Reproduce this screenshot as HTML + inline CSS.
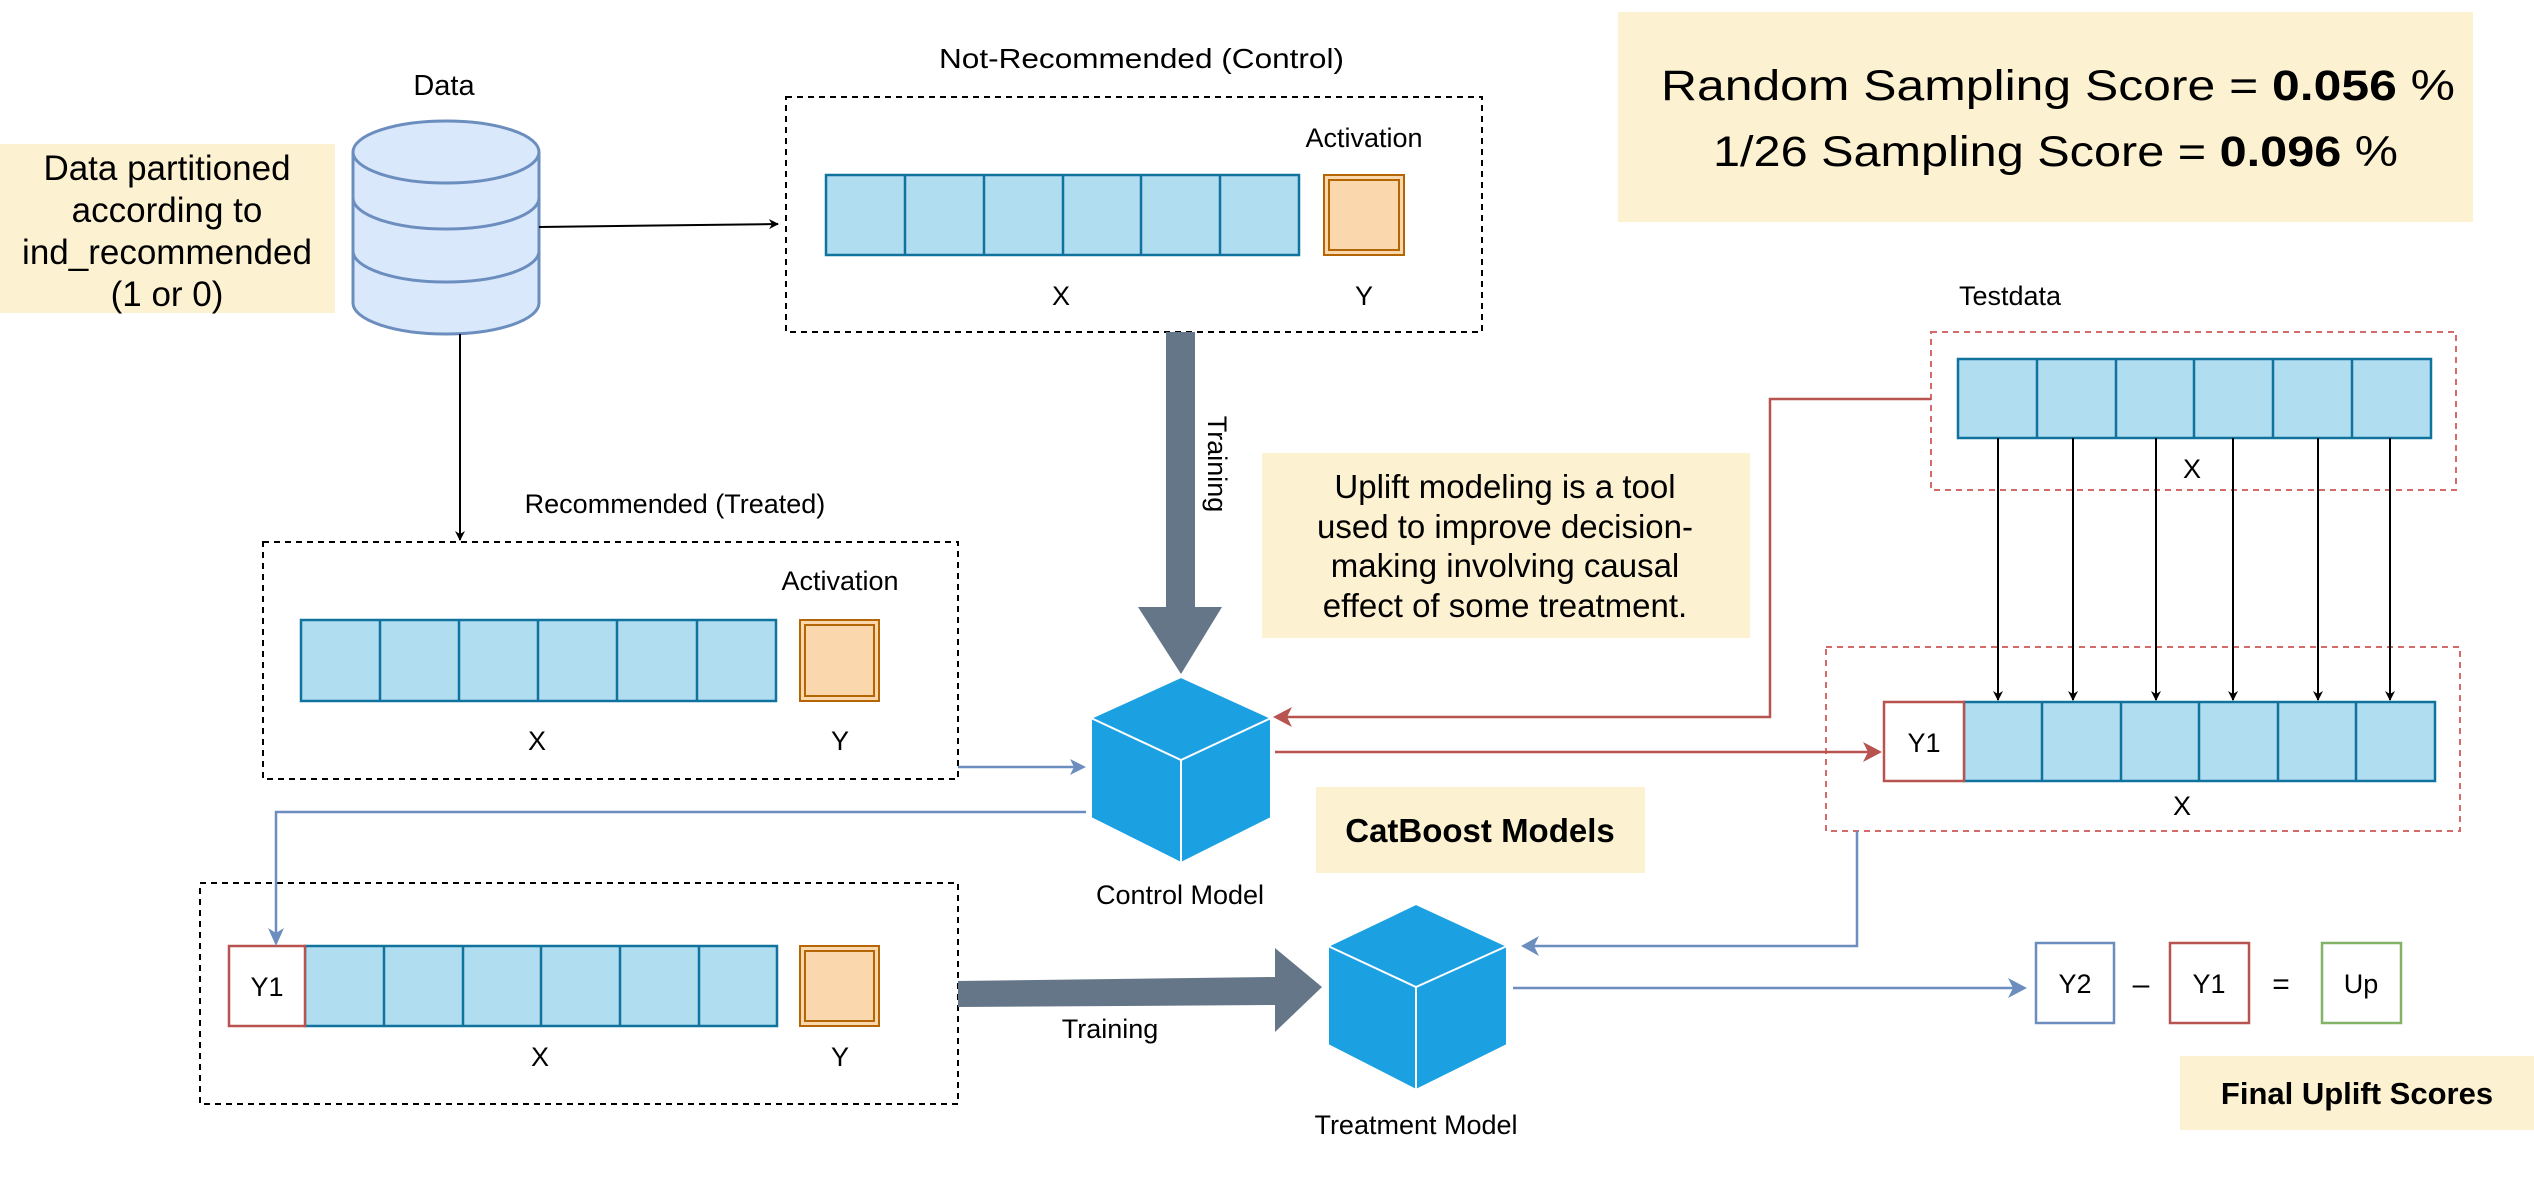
<!DOCTYPE html>
<html><head><meta charset="utf-8"><style>
html,body{margin:0;padding:0;background:#fff;}
svg{display:block;}
text{font-family:"Liberation Sans",Arial,sans-serif;}
</style></head><body>
<svg width="2534" height="1178" viewBox="0 0 2534 1178" xmlns="http://www.w3.org/2000/svg">
<defs>
<marker id="ab" markerWidth="10" markerHeight="10" refX="9" refY="5" orient="auto" markerUnits="userSpaceOnUse"><path d="M0,0 L10,5 L0,10 L3,5 z" fill="#000"/></marker>
</defs>
<g id="bk">
<!-- notes -->
<rect x="0" y="144" width="335" height="169" fill="#fcf1d0"/>
<g font-size="35" text-anchor="middle" fill="#000">
<text x="167" y="180">Data partitioned</text>
<text x="167" y="222">according to</text>
<text x="167" y="264">ind_recommended</text>
<text x="167" y="306">(1 or 0)</text>
</g>
<rect x="1618" y="12" width="855" height="210" fill="#fcf1d0"/>
<text x="1661" y="100" font-size="43" textLength="794" lengthAdjust="spacingAndGlyphs">Random Sampling  Score =  <tspan font-weight="bold">0.056</tspan> %</text>
<text x="1713" y="166" font-size="43" textLength="685" lengthAdjust="spacingAndGlyphs">1/26 Sampling Score = <tspan font-weight="bold">0.096</tspan> %</text>
<rect x="1262" y="453" width="488" height="185" fill="#fcf1d0"/>
<g font-size="33" text-anchor="middle">
<text x="1505" y="498">Uplift modeling is a tool</text>
<text x="1505" y="538">used to improve decision-</text>
<text x="1505" y="577">making involving causal</text>
<text x="1505" y="617">effect of some treatment.</text>
</g>
<rect x="1316" y="787" width="329" height="86" fill="#fcf1d0"/>
<text x="1480" y="842" font-size="33" font-weight="bold" text-anchor="middle">CatBoost Models</text>
<rect x="2180" y="1056" width="354" height="74" fill="#fcf1d0"/>
<text x="2357" y="1104" font-size="31" font-weight="bold" text-anchor="middle">Final Uplift Scores</text>

<!-- cylinder -->
<g fill="#dae8fc" stroke="#6c8ebf" stroke-width="3">
<path d="M353,152 L353,303 A93,31 0 0 0 539,303 L539,152"/>
<ellipse cx="446" cy="152" rx="93" ry="31"/>
<path d="M353,198 A93,31 0 0 0 539,198" fill="none"/>
<path d="M353,251 A93,31 0 0 0 539,251" fill="none"/>
</g>
<text x="444" y="95" font-size="29" text-anchor="middle">Data</text>
<line x1="539" y1="227" x2="778" y2="224" stroke="#000" stroke-width="2" marker-end="url(#ab)"/>
<line x1="460" y1="334" x2="460" y2="540" stroke="#000" stroke-width="2" marker-end="url(#ab)"/>

<!-- top box -->
<text x="939" y="68" font-size="28" textLength="405" lengthAdjust="spacingAndGlyphs">Not-Recommended (Control)</text>
<rect x="786" y="97" width="696" height="235" fill="none" stroke="#000" stroke-width="2" stroke-dasharray="6,5"/>
<g fill="#b1ddf0" stroke="#10739e" stroke-width="2.5">
<rect x="826" y="175" width="473" height="80"/>
<path d="M905,175V255M984,175V255M1063,175V255M1141,175V255M1220,175V255" fill="none"/>
<rect x="301" y="620" width="475" height="81"/>
<path d="M380,620V701M459,620V701M538,620V701M617,620V701M697,620V701" fill="none"/>
<rect x="305" y="946" width="472" height="80"/>
<path d="M384,946V1026M463,946V1026M541,946V1026M620,946V1026M699,946V1026" fill="none"/>
<rect x="1958" y="359" width="473" height="79"/>
<path d="M2037,359V438M2116,359V438M2194,359V438M2273,359V438M2352,359V438" fill="none"/>
<rect x="1964" y="702" width="471" height="79"/>
<path d="M2042,702V781M2121,702V781M2199,702V781M2278,702V781M2356,702V781" fill="none"/>
</g>
<g fill="#fad7ac" stroke="#b46504" stroke-width="2">
<rect x="1324" y="175" width="80" height="80"/><rect x="1329" y="180" width="70" height="70" fill="none"/>
<rect x="800" y="620" width="79" height="81"/><rect x="805" y="625" width="69" height="71" fill="none"/>
<rect x="800" y="946" width="79" height="80"/><rect x="805" y="951" width="69" height="70" fill="none"/>
</g>
<g font-size="27" text-anchor="middle">
<text x="1364" y="147">Activation</text>
<text x="1061" y="305">X</text><text x="1364" y="305">Y</text>
<text x="675" y="513">Recommended (Treated)</text>
<text x="840" y="590">Activation</text>
<text x="537" y="750">X</text><text x="840" y="750">Y</text>
<text x="540" y="1066">X</text><text x="840" y="1066">Y</text>
<text x="2010" y="305">Testdata</text>
<text x="2192" y="478">X</text>
<text x="2182" y="815">X</text>
<text x="1180" y="904">Control Model</text>
<text x="1416" y="1134">Treatment Model</text>
<text x="1110" y="1038">Training</text>
</g>
<text x="0" y="0" font-size="27" text-anchor="middle" transform="translate(1208,464) rotate(90)">Training</text>

<rect x="263" y="542" width="695" height="237" fill="none" stroke="#000" stroke-width="2" stroke-dasharray="6,5"/>
<rect x="200" y="883" width="758" height="221" fill="none" stroke="#000" stroke-width="2" stroke-dasharray="6,5"/>

<!-- Y1 boxes -->
<rect x="229" y="946" width="76" height="80" fill="#fff" stroke="#b85450" stroke-width="2.5"/>
<text x="267" y="996" font-size="27" text-anchor="middle">Y1</text>
<rect x="1884" y="702" width="80" height="79" fill="#fff" stroke="#b85450" stroke-width="2.5"/>
<text x="1924" y="752" font-size="27" text-anchor="middle">Y1</text>

<!-- test data boxes -->
<rect x="1931" y="332" width="525" height="158" fill="none" stroke="#d46a6a" stroke-width="2" stroke-dasharray="6,5"/>
<rect x="1826" y="647" width="634" height="184" fill="none" stroke="#d46a6a" stroke-width="2" stroke-dasharray="6,5"/>
<g stroke="#000" stroke-width="2" marker-end="url(#ab)">
<line x1="1998" y1="438" x2="1998" y2="700"/><line x1="2073" y1="438" x2="2073" y2="700"/>
<line x1="2156" y1="438" x2="2156" y2="700"/><line x1="2233" y1="438" x2="2233" y2="700"/>
<line x1="2318" y1="438" x2="2318" y2="700"/><line x1="2390" y1="438" x2="2390" y2="700"/>
</g>

<!-- big arrows -->
<path d="M1166,332 H1195 V607 H1222 L1181,674 L1138,607 H1166 Z" fill="#647687"/>
<path d="M958,981 L1275,977 L1275,948 L1322,987 L1275,1032 L1275,1005 L958,1007 Z" fill="#647687"/>

<!-- cubes -->
<g stroke="#fff" stroke-width="2">
<path d="M1181,677 L1271,718 L1271,818 L1181,863 L1091,818 L1091,718 Z" fill="#1ba1e2"/>
<path d="M1091,718 L1181,760 L1271,718 M1181,760 V863" fill="none"/>
<path d="M1416,904 L1507,946 L1507,1045 L1416,1090 L1328,1045 L1328,946 Z" fill="#1ba1e2"/>
<path d="M1328,946 L1416,987 L1507,946 M1416,987 V1090" fill="none"/>
</g>

<!-- connectors -->
<g fill="none" stroke-width="2.5">
<path d="M958,767 H1078" stroke="#6c8ebf"/>
<path d="M1086,812 H276 V936" stroke="#6c8ebf"/>
<path d="M1931,399 H1770 V717 H1285" stroke="#b85450"/>
<path d="M1275,752 H1872" stroke="#b85450"/>
<path d="M1857,831 V946 H1532" stroke="#6c8ebf"/>
<path d="M1513,988 H2018" stroke="#6c8ebf"/>
</g>
<g>
<path d="M1086,767 L1070,759 L1074,767 L1070,775 Z" fill="#6c8ebf"/>
<path d="M276,946 L268,928 L276,933 L284,928 Z" fill="#6c8ebf"/>
<path d="M1273,717 L1292,707 L1287,717 L1292,727 Z" fill="#b85450"/>
<path d="M1882,752 L1863,742 L1868,752 L1863,762 Z" fill="#b85450"/>
<path d="M1521,946 L1539,936 L1534,946 L1539,956 Z" fill="#6c8ebf"/>
<path d="M2027,988 L2008,978 L2013,988 L2008,998 Z" fill="#6c8ebf"/>
</g>

<!-- result -->
<rect x="2036" y="943" width="78" height="80" fill="#fff" stroke="#6c8ebf" stroke-width="2.5"/>
<text x="2075" y="993" font-size="27" text-anchor="middle">Y2</text>
<text x="2141" y="994" font-size="30" text-anchor="middle">–</text>
<rect x="2170" y="943" width="79" height="80" fill="#fff" stroke="#b85450" stroke-width="2.5"/>
<text x="2209" y="993" font-size="27" text-anchor="middle">Y1</text>
<text x="2281" y="994" font-size="30" text-anchor="middle">=</text>
<rect x="2322" y="943" width="79" height="80" fill="#fff" stroke="#82b366" stroke-width="2.5"/>
<text x="2361" y="993" font-size="27" text-anchor="middle">Up</text>
</g>
</svg>
</body></html>
